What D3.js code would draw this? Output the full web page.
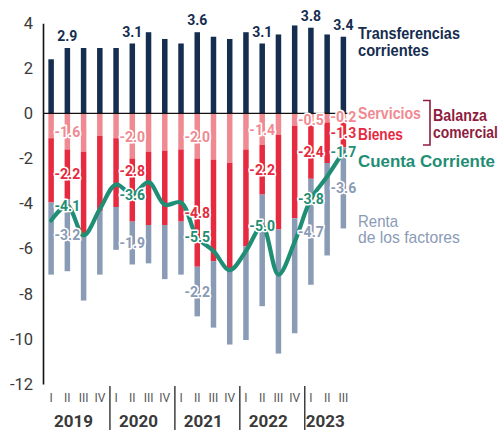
<!DOCTYPE html>
<html>
<head>
<meta charset="utf-8">
<script src="https://cdn.jsdelivr.net/npm/d3@7/dist/d3.min.js"></script>
<style>
  html, body { margin: 0; padding: 0; background: #fff; }
  svg { display: block; }
</style>
</head>
<body>
<svg id="chart" width="503" height="430"></svg>
<script>
// Quarterly balance of payments components, % of GDP
const years = ["2019", "2020", "2021", "2022", "2023"];
const quarterNames = ["I", "II", "III", "IV"];
const periods = years.flatMap(yr => quarterNames.map(q => yr + " " + q)).slice(0, 19);

const transferencias = [2.4, 2.9, 2.9, 2.9, 2.9, 3.1, 3.6, 3.3, 3.1, 3.6, 3.4, 3.3, 3.6, 3.1, 3.5, 3.9, 3.8, 3.5, 3.4];
const servicios = [-1.1, -1.6, -1.7, -1.0, -1.1, -2.0, -1.7, -1.65, -1.6, -2.0, -2.05, -2.2, -1.6, -1.4, -0.95, -0.55, -0.5, -0.4, -0.2];
const bienes = [-2.85, -2.2, -3.7, -3.35, -3.05, -2.8, -3.25, -3.3, -3.2, -4.8, -4.5, -4.75, -4.3, -2.2, -4.2, -4.1, -2.4, -1.8, -1.3];
const renta = [-3.2, -3.2, -2.9, -2.8, -1.9, -1.9, -1.7, -2.4, -2.35, -2.2, -2.95, -3.3, -4.15, -4.95, -5.5, -5.1, -4.7, -4.1, -3.6];
const cuentaCorriente = [-4.75, -4.1, -5.4, -4.25, -3.15, -3.6, -3.05, -4.05, -3.95, -5.5, -6.1, -6.95, -6.1, -5.0, -7.15, -5.7, -3.8, -2.8, -1.7];

// Quarters that carry value labels
const labelled = [1, 5, 9, 13, 16, 18];
const rentaLabelled = [1, 5, 9, 16, 18];

const yTicks = [4, 2, 0, -2, -4, -6, -8, -10, -12];

const C = {
  navy: "#152d4f",
  pink: "#f08a92",
  red: "#e62a40",
  slate: "#8a9bb6",
  green: "#1f8e74",
  maroon: "#8e1d3e",
  axis: "#3a3a3a"
};

const svg = d3.select("#chart");

const x = d3.scaleBand().domain(periods).range([43, 351.5]).paddingInner(0).paddingOuter(0);
const y = d3.scaleLinear().domain([-12, 4]).range([384, 23.2]);
const cx = p => x(p) + x.bandwidth() / 2;
const barW = 5.5;

const fmt = v => v.toFixed(1);

// Stack rows: each negative component hangs below the previous one
const rows = periods.map((p, i) => {
  const s0 = 0, s1 = servicios[i];
  const b0 = s1, b1 = s1 + bienes[i];
  const r0 = b1, r1 = b1 + renta[i];
  return { p, i, t: transferencias[i], s0, s1, b0, b1, r0, r1 };
});

const gBars = svg.append("g");

function segment(cls, color, top, bottom) {
  gBars.selectAll("rect." + cls)
    .data(rows)
    .join("rect")
    .attr("class", cls)
    .attr("x", d => cx(d.p) - barW / 2)
    .attr("width", barW)
    .attr("y", d => y(top(d)))
    .attr("height", d => Math.max(0, y(bottom(d)) - y(top(d))))
    .attr("fill", color);
}
segment("tr", C.navy, d => d.t, d => 0);
segment("sv", C.pink, d => d.s0, d => d.s1);
segment("bi", C.red, d => d.b0, d => d.b1);
segment("re", C.slate, d => d.r0, d => d.r1);

// Y axis
const yAxis = d3.axisLeft(y)
  .tickValues(yTicks)
  .tickFormat(d => String(d))
  .tickSize(0)
  .tickPadding(10);
const gy = svg.append("g").attr("transform", "translate(43,0)").call(yAxis);
gy.select(".domain").attr("stroke", "#111").attr("stroke-width", 1.6);
gy.selectAll("text")
  .attr("font-family", "Roboto, 'Liberation Sans', sans-serif")
  .attr("font-size", 16.5)
  .attr("fill", C.axis);

// Zero line
svg.append("line")
  .attr("x1", 43).attr("x2", 357)
  .attr("y1", y(0)).attr("y2", y(0))
  .attr("stroke", "#111").attr("stroke-width", 1.2);

// Current account line
const line = d3.line()
  .x((d, i) => cx(periods[i]))
  .y(d => y(d))
  .curve(d3.curveCatmullRom.alpha(0.5));
svg.append("path")
  .datum(cuentaCorriente)
  .attr("d", line)
  .attr("fill", "none")
  .attr("stroke", C.green)
  .attr("stroke-width", 4.2)
  .attr("stroke-linecap", "round");

// X axis: quarter numerals and years
const xAxis = d3.axisBottom(x)
  .tickFormat(p => p.split(" ")[1])
  .tickSize(0)
  .tickPadding(0);
const gx = svg.append("g").attr("transform", "translate(0,393)").call(xAxis);
gx.select(".domain").remove();
gx.selectAll("text")
  .attr("font-family", "Roboto, 'Liberation Sans', sans-serif")
  .attr("font-size", 12)
  .attr("fill", "#555");

years.forEach((yr, k) => {
  const members = periods.filter(p => p.startsWith(yr));
  const first = members[0];
  if (k > 0) {
    svg.append("line")
      .attr("x1", x(first) + 2).attr("x2", x(first) + 2)
      .attr("y1", 386).attr("y2", 430)
      .attr("stroke", "#222").attr("stroke-width", 1.3);
  }
  const mid = d3.mean(members, p => cx(p));
  svg.append("text")
    .attr("x", mid - 2).attr("y", 427)
    .attr("text-anchor", "middle")
    .attr("font-family", "Roboto, 'Liberation Sans', sans-serif")
    .attr("font-weight", 700)
    .attr("font-size", 17)
    .attr("fill", C.axis)
    .text(yr);
});

// Value labels with white halo
const gLab = svg.append("g")
  .attr("font-family", "Roboto, 'Liberation Sans', sans-serif")
  .attr("font-weight", 700)
  .attr("font-size", 14)
  .attr("text-anchor", "middle");

function label(xp, yp, txt, color) {
  gLab.append("text")
    .attr("x", xp).attr("y", yp).attr("dy", "0.36em")
    .attr("fill", color)
    .attr("stroke", "#fff").attr("stroke-width", 3.2)
    .attr("stroke-linejoin", "round")
    .attr("paint-order", "stroke")
    .text(txt);
}

labelled.forEach(i => {
  const r = rows[i];
  const xp = cx(r.p);
  const ccY = y(cuentaCorriente[i]);
  label(xp, y(r.t) - 12, fmt(transferencias[i]), C.navy);
  label(xp, (y(r.s0) + y(r.s1)) / 2 + 1, fmt(servicios[i]), C.pink);
  let by = (y(r.b0) + y(r.b1)) / 2;
  if (Math.abs(by - ccY) < 10) by = ccY - 24;
  label(xp, by, fmt(bienes[i]), C.red);
  if (rentaLabelled.includes(i)) label(xp, (y(r.r0) + y(r.r1)) / 2, fmt(renta[i]), C.slate);
  label(xp, ccY, fmt(cuentaCorriente[i]), C.green);
});

// Series names on the right, condensed horizontally to a target width
const gLeg = svg.append("g")
  .attr("font-family", "'Liberation Sans', Arial, sans-serif")
  .attr("font-weight", 700)
  .attr("font-size", 16);

function legendText(xp, yp, txt, color, len, opts = {}) {
  const g = gLeg.append("g");
  const t = g.append("text")
    .attr("x", 0).attr("y", 0).attr("dy", "0.36em")
    .attr("fill", color)
    .text(txt);
  if (opts.weight) t.attr("font-weight", opts.weight);
  if (opts.size) t.attr("font-size", opts.size);
  const natural = t.node().getComputedTextLength() || len;
  g.attr("transform", `translate(${xp},${yp}) scale(${len / natural},1)`);
  return t;
}

legendText(358, 33.5, "Transferencias", C.navy, 102);
legendText(358, 50, "corrientes", C.navy, 71);
legendText(358, 113.5, "Servicios", C.pink, 63);
legendText(358, 134, "Bienes", C.red, 45);
legendText(433, 115.5, "Balanza", C.maroon, 54);
legendText(433, 132, "comercial", C.maroon, 65);
legendText(358, 161, "Cuenta Corriente", C.green, 137, { size: 17 });
legendText(358, 221, "Renta", C.slate, 40, { weight: 400 });
legendText(358, 237, "de los factores", C.slate, 102, { weight: 400 });

// Bracket grouping services and goods
svg.append("path")
  .attr("d", "M423,100.5 H430 V145 H423")
  .attr("fill", "none")
  .attr("stroke", C.maroon)
  .attr("stroke-width", 1.6);
</script>
</body>
</html>
